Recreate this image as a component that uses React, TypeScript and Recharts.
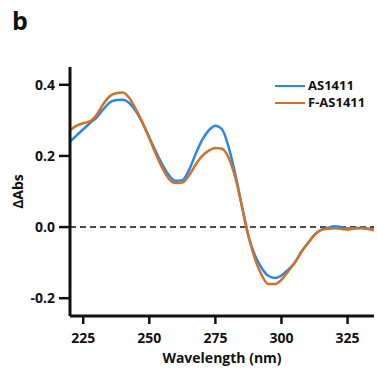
import { Line, LineChart, ReferenceLine, XAxis, YAxis } from "recharts";

const wavelengths = [
  220, 222.5, 225, 227.5, 230, 232.5, 235, 237.5, 240, 242.5, 245, 247.5, 250,
  252.5, 255, 257.5, 260, 262.5, 265, 267.5, 270, 272.5, 275, 277.5, 280, 282.5,
  285, 287.5, 290, 292.5, 295, 297.5, 300, 302.5, 305, 307.5, 310, 312.5, 315,
  317.5, 320, 322.5, 325, 327.5, 330, 332.5, 335,
];

const as1411 = [
  0.24, 0.258, 0.275, 0.292, 0.308, 0.33, 0.35, 0.357, 0.358, 0.348, 0.325,
  0.292, 0.252, 0.212, 0.175, 0.145, 0.13, 0.132, 0.16, 0.205, 0.245, 0.272,
  0.285, 0.275, 0.225, 0.15, 0.06, -0.025, -0.08, -0.115, -0.137, -0.143,
  -0.136, -0.12, -0.1, -0.07, -0.045, -0.022, -0.008, -0.002, 0.002, 0.0,
  -0.004, -0.003, -0.002, -0.004, -0.007,
];

const fAs1411 = [
  0.272, 0.285, 0.292, 0.297, 0.315, 0.345, 0.368, 0.376, 0.378, 0.362, 0.33,
  0.292, 0.25, 0.205, 0.165, 0.135, 0.124, 0.125, 0.145, 0.175, 0.2, 0.215,
  0.222, 0.22, 0.195, 0.14, 0.06, -0.025, -0.09, -0.135, -0.16, -0.16, -0.148,
  -0.125, -0.1, -0.07, -0.045, -0.022, -0.008, -0.005, -0.003, -0.005, -0.007,
  -0.004, -0.003, -0.005, -0.009,
];

const xTicks = [225, 250, 275, 300, 325];
const yTicks = [-0.2, 0, 0.2, 0.4];

const seriesNames = ["AS1411", "F-AS1411"];
const colors = ["#2b87e6", "#d2702a"];

const data = wavelengths.map((w, i) => ({
  wl: w,
  a: as1411[i],
  f: fAs1411[i],
}));

const font = "'Open Sans', sans-serif";
const tickStyle = { fill: "#111", fontSize: 14, fontWeight: 700, fontFamily: font };

// legend drawn as an overlay so the plot area keeps its size
function LegendBox() {
  return (
    <div
      style={{
        position: "absolute",
        left: 275,
        top: 77,
        fontFamily: font,
        fontWeight: 700,
        fontSize: 13,
        lineHeight: "17px",
        color: "#111",
      }}
    >
      {seriesNames.map((n, i) => (
        <div key={n} style={{ display: "flex", alignItems: "center", height: 17 }}>
          <span
            style={{
              display: "inline-block",
              width: 30,
              height: 0,
              borderTop: `2.5px solid ${colors[i]}`,
              marginRight: 3,
            }}
          />
          <span>{n}</span>
        </div>
      ))}
    </div>
  );
}

export default function App() {
  return (
    <div style={{ position: "absolute", left: 0, top: 0, width: 377, height: 368, background: "#fff" }}>
      <div
        style={{
          position: "absolute",
          left: 12,
          top: 3,
          fontFamily: font,
          fontWeight: 700,
          fontSize: 25,
          color: "#111",
        }}
      >
        b
      </div>
      <LineChart
        width={377}
        height={368}
        data={data}
        margin={{ top: 67, right: 3, bottom: 0, left: 10 }}
      >
        <XAxis
          dataKey="wl"
          type="number"
          domain={[220, 335]}
          ticks={xTicks}
          allowDataOverflow
          axisLine={{ stroke: "#111", strokeWidth: 3 }}
          tickLine={{ stroke: "#111", strokeWidth: 2.5 }}
          tickSize={8}
          tickMargin={9}
          tick={tickStyle}
          height={52}
          label={{
            value: "Wavelength (nm)",
            position: "insideBottom",
            offset: 5,
            style: { ...tickStyle, textAnchor: "middle" },
          }}
        />
        <YAxis
          type="number"
          domain={[-0.25, 0.45]}
          ticks={yTicks}
          allowDataOverflow
          tickFormatter={(v: number) => v.toFixed(1)}
          axisLine={{ stroke: "#111", strokeWidth: 3 }}
          tickLine={{ stroke: "#111", strokeWidth: 2.5 }}
          tickSize={11}
          tickMargin={4}
          tick={tickStyle}
          width={60}
          label={{
            value: "ΔAbs",
            angle: -90,
            position: "insideLeft",
            offset: 8,
            style: { ...tickStyle, textAnchor: "middle" },
          }}
        />
        <ReferenceLine y={0} stroke="#111" strokeWidth={1.5} strokeDasharray="6 4" />
        <Line
          type="monotone"
          dataKey="a"
          name="AS1411"
          stroke={colors[0]}
          strokeWidth={2.5}
          dot={false}
          isAnimationActive={false}
        />
        <Line
          type="monotone"
          dataKey="f"
          name="F-AS1411"
          stroke={colors[1]}
          strokeWidth={2.5}
          dot={false}
          isAnimationActive={false}
        />
      </LineChart>
      <LegendBox />
    </div>
  );
}
